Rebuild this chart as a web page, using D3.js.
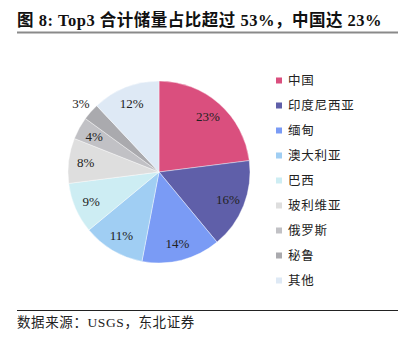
<!DOCTYPE html>
<html>
<head>
<meta charset="utf-8">
<script src="https://cdn.jsdelivr.net/npm/d3@7"></script>
<style>
  html, body { margin: 0; padding: 0; background: #fff; }
  svg { display: block; }
</style>
</head>
<body>
<script>
// Lithium reserve shares by country (%)
const countries = ["中国", "印度尼西亚", "缅甸", "澳大利亚", "巴西", "玻利维亚", "俄罗斯", "秘鲁", "其他"];
const shares = [23, 16, 14, 11, 9, 8, 4, 3, 12];
const colors = ["#DA4F7E", "#5F5FA9", "#7A9BF5", "#A0CEF3", "#CDEDF3", "#DEDEDE", "#C1C1C5", "#AAAAAE", "#DEE9F5"];

const W = 406, H = 342;
const svg = d3.select("body").append("svg").attr("width", W).attr("height", H);

const serif = "'Liberation Serif', 'Noto Sans CJK SC', serif";

// Title and rules
svg.append("text")
  .attr("x", 17).attr("y", 26)
  .attr("font-family", serif)
  .attr("font-size", 16.5).attr("font-weight", "bold")
  .attr("letter-spacing", 0.5)
  .attr("fill", "#111")
  .text("图 8:  Top3 合计储量占比超过 53%，中国达 23%");
svg.append("line").attr("x1", 17).attr("x2", 398).attr("y1", 32.5).attr("y2", 32.5)
  .attr("stroke", "#8a8a8a").attr("stroke-width", 2);
svg.append("line").attr("x1", 17).attr("x2", 398).attr("y1", 310.5).attr("y2", 310.5)
  .attr("stroke", "#222").attr("stroke-width", 1);
svg.append("text")
  .attr("x", 17).attr("y", 327)
  .attr("font-family", serif)
  .attr("font-size", 13.5).attr("letter-spacing", 0.6)
  .attr("fill", "#222")
  .text("数据来源：USGS，东北证券");

// Pie
const cx = 159, cy = 172, r = 91;
const data = countries.map((c, i) => ({ name: c, value: shares[i], color: colors[i] }));
const pie = d3.pie().value(d => d.value).sort(null);
const arcs = pie(data);
const arc = d3.arc().innerRadius(0).outerRadius(r);

const g = svg.append("g").attr("transform", `translate(${cx},${cy})`);
g.selectAll("path").data(arcs).join("path")
  .attr("d", arc)
  .attr("fill", d => d.data.color)
  .attr("stroke", "#fff").attr("stroke-width", 0.4);

const labelArc = d3.arc().innerRadius(74).outerRadius(74);
const outerArc = d3.arc().innerRadius(104).outerRadius(104);
g.selectAll("text.lbl").data(arcs).join("text")
  .attr("class", "lbl")
  .attr("transform", d => `translate(${(d.data.value <= 3 ? outerArc : labelArc).centroid(d)})`)
  .attr("text-anchor", "middle")
  .attr("dy", "0.35em")
  .attr("font-family", serif)
  .attr("font-size", 13)
  .attr("fill", "#222")
  .text(d => d.data.value + "%");

// Legend
const leg = svg.append("g");
const items = leg.selectAll("g").data(data).join("g")
  .attr("transform", (d, i) => `translate(276, ${81 + i * 25})`);
items.append("rect").attr("x", 0).attr("y", -3.5).attr("width", 6).attr("height", 6)
  .attr("fill", d => d.color);
items.append("text").attr("x", 12).attr("dy", "0.35em")
  .attr("font-family", "'Noto Sans CJK SC', sans-serif")
  .attr("font-size", 12.5).attr("letter-spacing", 0.8)
  .attr("fill", "#222")
  .text(d => d.name);
</script>
</body>
</html>
